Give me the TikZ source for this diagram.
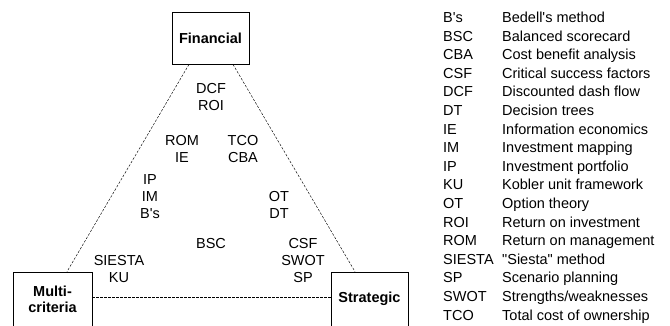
\documentclass[tikz,border=0pt]{standalone}
\usepackage{fontspec}
\setmainfont{Liberation Sans}
\begin{document}
\begin{tikzpicture}[x=10pt,y=-10pt,
    font=\fontsize{14.5}{17}\selectfont,
    box/.style={draw, line width=0.8pt, font=\fontsize{14.5}{16}\selectfont\bfseries, align=center, minimum width=77pt},
    lbl/.style={align=center, inner sep=0pt},
    link/.style={dash pattern=on 2.5pt off 1.5pt, line width=0.45pt}]
  \clip (0,0) rectangle (67,32.5);
  % Caixas
  \node[box, minimum height=52pt] (fin) at (21.05,3.8) {Financial};
  \node[box, minimum height=54pt, minimum width=79pt] (multi) at (5.25,29.9) {Multi-\\criteria};
  \node[box, minimum height=54pt] (strat) at (36.95,29.9) {Strategic};
  % Triangulo
  \draw[link] ([xshift=-21.5pt]fin.south) -- ([xshift=14.5pt]multi.north);
  \draw[link] ([xshift=22.5pt]fin.south) -- ([xshift=-14.5pt]strat.north);
  \draw[link] ([yshift=2pt]multi.east) -- ([yshift=2pt]strat.west);
  % Metodos
  \node[lbl] (dcf) at (21.1,9.75) {DCF\\ROI};
  \node[lbl] (rom) at (18.2,14.9) {ROM\\IE};
  \node[lbl] (tco) at (24.3,14.95) {TCO\\CBA};
  \node[lbl] (ip) at (15.0,19.65) {IP\\IM\\B\textquotesingle s};
  \node[lbl] (ot) at (27.9,20.45) {OT\\DT};
  \node[lbl] (bsc) at (21.1,24.35) {BSC};
  \node[lbl] (siesta) at (11.9,26.95) {SIESTA\\KU};
  \node[lbl] (csf) at (30.3,26.05) {CSF\\SWOT\\SP};
  % Legenda
  \node[anchor=north west, inner sep=0pt, font=\fontsize{14.5}{18.6}\selectfont] (legend) at (44.3,0.92) {%
    \begin{tabular}{@{}p{59pt}@{}l@{}}
      B\textquotesingle s & Bedell\textquotesingle s method\\
      BSC & Balanced scorecard\\
      CBA & Cost benefit analysis\\
      CSF & Critical success factors\\
      DCF & Discounted dash flow\\
      DT & Decision trees\\
      IE & Information economics\\
      IM & Investment mapping\\
      IP & Investment portfolio\\
      KU & Kobler unit framework\\
      OT & Option theory\\
      ROI & Return on investment\\
      ROM & Return on management\\
      SIESTA & \textquotedbl Siesta\textquotedbl{} method\\
      SP & Scenario planning\\
      SWOT & Strengths/weaknesses\\
      TCO & Total cost of ownership
    \end{tabular}};
\end{tikzpicture}
\end{document}
